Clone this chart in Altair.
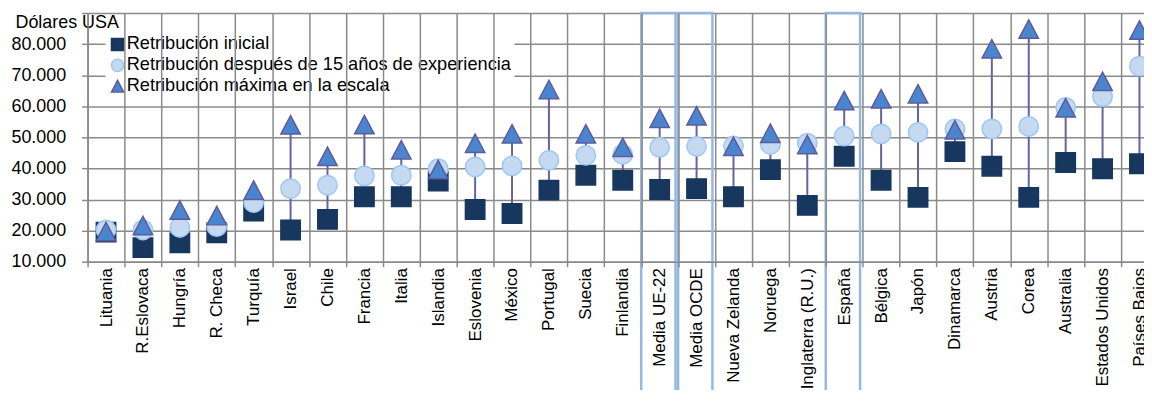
import altair as alt
import pandas as pd

paises = ["Lituania", "R.Eslovaca", "Hungría", "R. Checa", "Turquía", "Israel", "Chile",
          "Francia", "Italia", "Islandia", "Eslovenia", "México", "Portugal", "Suecia",
          "Finlandia", "Media UE-22", "Media OCDE", "Nueva Zelanda", "Noruega",
          "Inglaterra (R.U.)", "España", "Bélgica", "Japón", "Dinamarca", "Austria",
          "Corea", "Australia", "Estados Unidos", "Países Bajos"]
inicial = [19500, 14500, 16100, 19300, 26300, 20200, 23600, 30900, 30900, 35900, 26800,
           25500, 33000, 37800, 36200, 33200, 33500, 30900, 39600, 28100, 43900, 36200,
           30700, 45400, 40700, 30700, 41900, 39900, 41500]
quince = [20200, 20200, 21000, 21300, 29000, 33500, 34600, 37600, 37800, 39900, 40500,
          40800, 42600, 44200, 44500, 46800, 47100, 47200, 47700, 48100, 50400, 51100,
          51600, 52700, 52700, 53500, 59600, 63100, 72900]
maxima = [19700, 21600, 26600, 24800, 33000, 54000, 43900, 54100, 46000, 39600, 48100,
          51100, 65400, 51100, 46800, 56100, 56900, 47100, 51300, 47700, 61800, 62400,
          64000, 52400, 78500, 84800, 59500, 68000, 84500]
destacados = ["Media UE-22", "Media OCDE", "España"]

s1 = "Retribución inicial"
s2 = "Retribución después de 15 años de experiencia"
s3 = "Retribución máxima en la escala"
series = [s1, s2, s3]

df = pd.DataFrame({"País": paises, s1: inicial, s2: quince, s3: maxima})
df_box = pd.DataFrame({"País": destacados})

FONT = "Liberation Sans"
GRID = "#8A8A8A"

xenc = alt.X("País:N", sort=paises,
             scale=alt.Scale(domain=paises, paddingInner=0, paddingOuter=0, range=[0, 1076]),
             axis=alt.Axis(title=None, labelAngle=270, tickBand="extent", grid=True,
                           gridColor=GRID, gridWidth=1.5, domainColor=GRID, domainWidth=1.5,
                           tickColor=GRID, tickWidth=1.5, tickSize=5, labelPadding=1,
                           labelFontSize=17, labelFont=FONT, labelColor="#000000",
                           labelLimit=300))

yscale = alt.Scale(domain=[10000, 90000], nice=False, zero=False)
yaxis = alt.Axis(values=list(range(10000, 90001, 10000)),
                 labelExpr="datum.value >= 90000 ? '' : replace(format(datum.value, ',.0f'), ',', '.')",
                 title="Dólares USA", titleAngle=0, titleX=-73, titleY=15, titleAlign="left",
                 titleBaseline="alphabetic", titleFontSize=18, titleFontWeight="normal",
                 titleFont=FONT, titleColor="#000000",
                 tickSize=6, labelPadding=16,
                 grid=True, gridColor=GRID, gridWidth=1.5, domainColor=GRID, domainWidth=1.5,
                 tickColor=GRID, tickWidth=1.5, labelFontSize=18, labelFont=FONT,
                 labelColor="#000000")

boxes = alt.Chart(df_box).mark_rect(filled=False, stroke="#95B8E3", strokeWidth=2.5,
                                    width=alt.RelativeBandSize(0.93), xOffset=-1.3).encode(
    x=xenc, y=alt.value(0), y2=alt.value(400))

rule = alt.Chart(df).mark_rule(color="#65639E", strokeWidth=2).encode(
    x=xenc,
    y=alt.Y(field=s1, type="quantitative", scale=yscale, axis=yaxis),
    y2=alt.Y2(field=s3))

tri = "M0,-0.95L1,0.95L-1,0.95Z"
leg = alt.Legend(orient="none", legendX=18, legendY=19.5, fillColor="white", padding=3,
                 labelFontSize=18.3, labelFont=FONT, labelColor="#000000", symbolSize=150,
                 rowPadding=1, labelLimit=600, title=None, labelOffset=0,
                 symbolStrokeWidth=1.5)

points = alt.Chart(df).transform_fold(series, as_=["serie", "valor"]).mark_point(
    filled=True, size=380, opacity=1, strokeWidth=1.5).encode(
    x=xenc,
    y=alt.Y("valor:Q", scale=yscale, axis=yaxis),
    shape=alt.Shape("serie:N", scale=alt.Scale(domain=series, range=["square", "circle", tri]), legend=leg),
    color=alt.Color("serie:N", scale=alt.Scale(domain=series, range=["#17375E", "#C5D9F1", "#4A86CF"]), legend=leg),
    stroke=alt.Stroke("serie:N", scale=alt.Scale(domain=series, range=["#17375E", "#9CC8F4", "#5F5B9B"]), legend=leg),
)

chart = alt.layer(boxes, rule, points).properties(
    width=1062, height=250,
    autosize=alt.AutoSizeParams(type="none"),
    padding={"left": 80, "top": 4, "right": 0, "bottom": 128}
).configure_view(stroke=None).configure(font=FONT)

chart.save("out.html", embed_options={"renderer": "svg", "actions": False})
